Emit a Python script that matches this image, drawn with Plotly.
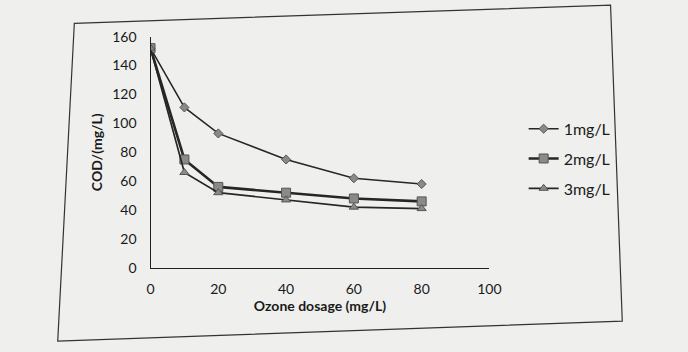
import plotly.graph_objects as go

ozone = [0, 10, 20, 40, 60, 80]
cod_1mg = [152, 111, 93, 75, 62, 58]
cod_2mg = [152, 75, 56, 52, 48, 46]
cod_3mg = [152, 66, 52, 47, 42, 41]
series_names = ["1mg/L", "2mg/L", "3mg/L"]
x_ticks = [0, 20, 40, 60, 80, 100]
y_ticks = [0, 20, 40, 60, 80, 100, 120, 140, 160]

W, H = 688, 352
FONT = "Lato"
LINE = "#262626"
MARK = "#8a8a8a"

fig = go.Figure()
styles = [
    dict(symbol="diamond", size=7, lw=1.5),
    dict(symbol="square", size=9, lw=2.6),
    dict(symbol="triangle-up", size=8, lw=1.7),
]
for name, vals, st in zip(series_names, [cod_1mg, cod_2mg, cod_3mg], styles):
    fig.add_trace(go.Scatter(
        x=ozone, y=vals, name=name, mode="lines+markers",
        line=dict(color=LINE, width=st["lw"]),
        marker=dict(symbol=st["symbol"], size=st["size"], color=MARK,
                    line=dict(color="#555555", width=1)),
        legendgroup=name,
    ))

fig.update_layout(
    width=W, height=H,
    margin=dict(l=0, r=0, t=0, b=0),
    paper_bgcolor="#efefed",
    plot_bgcolor="rgba(0,0,0,0)",
    font=dict(family=FONT, size=14, color="#1a1a1a"),
    showlegend=True,
    legend=dict(x=532 / W, y=1 - 108 / H, xanchor="left", yanchor="top",
                bgcolor="rgba(0,0,0,0)", font=dict(size=16, family=FONT),
                tracegroupgap=6, itemwidth=30),
    xaxis=dict(range=[0, 100], domain=[150 / W, 497 / W], tickvals=x_ticks,
               showgrid=False, zeroline=False, showline=True, linecolor="#222222",
               linewidth=1.2, ticks="", ticklabelstandoff=8,
               title=dict(text="<b>Ozone dosage (mg/L)</b>", font=dict(size=14, family=FONT),
                          standoff=5)),
    yaxis=dict(range=[0, 160], domain=[(H - 272) / H, (H - 29) / H], tickvals=y_ticks,
               showgrid=False, zeroline=False, showline=True, linecolor="#222222",
               linewidth=1.2, ticks="", ticklabelstandoff=10,
               title=dict(text="<b>COD/(mg/L)</b>", font=dict(size=14, family=FONT),
                          standoff=6)),
)

# chart frame (slightly skewed, as in the photographed page)
fig.add_shape(type="path", xref="paper", yref="paper",
              path=f"M {72/W} {1-15/H} L {621/W} {1-(-4)/H} L {633/W} {1-328/H} L {55/W} {1-349/H} Z",
              line=dict(color="#333333", width=1.2), fillcolor="rgba(0,0,0,0)", layer="below")

fig.write_html("out.html")
